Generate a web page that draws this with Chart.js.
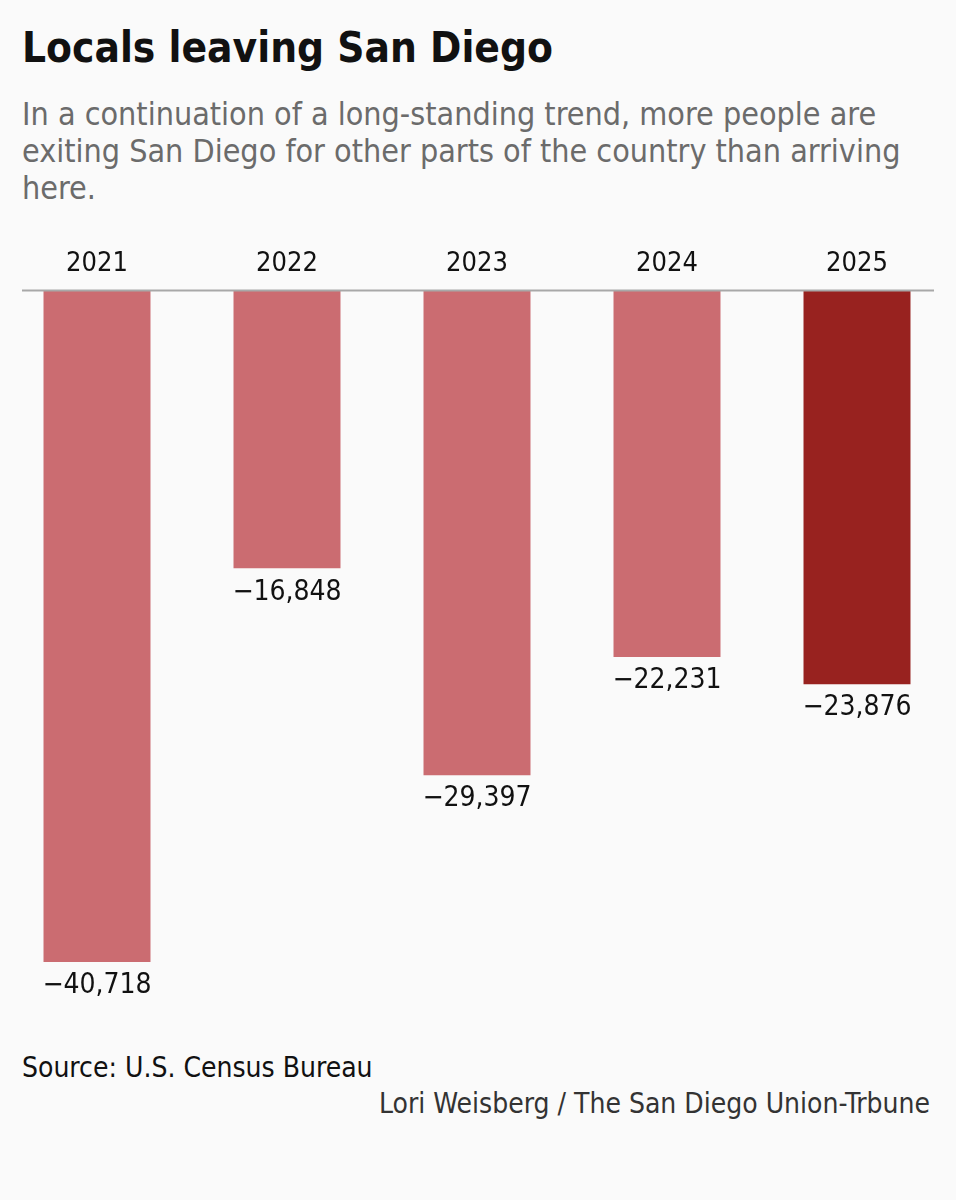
<!DOCTYPE html>
<html>
<head>
<meta charset="utf-8">
<script src="https://cdn.jsdelivr.net/npm/chart.js@4.4.1/dist/chart.umd.min.js"></script>
<style>
  body { margin: 0; background: #fafafa; width: 956px; height: 1200px; position: relative; overflow: hidden;
         font-family: "Liberation Sans Narrow", "DejaVu Sans Condensed", sans-serif; }
  .t { position: absolute; white-space: nowrap; }
  #title { left: 22px; top: 23px; font-size: 42px; font-weight: bold; color: #111; }
  #sub { left: 22px; top: 96px; font-size: 32px; line-height: 37px; color: #6b6b6b; }
  #source { left: 22px; top: 1051px; font-size: 28px; color: #111; }
  #credit { right: 26px; top: 1087px; font-size: 28px; color: #333; }
  #wrap { position: absolute; left: 0; top: 230px; width: 956px; height: 786px; }
</style>
</head>
<body>
<div class="t" id="title">Locals leaving San Diego</div>
<div class="t" id="sub">In a continuation of a long-standing trend, more people are<br>exiting San Diego for other parts of the country than arriving<br>here.</div>
<div id="wrap"><canvas id="chartData"></canvas></div>
<div class="t" id="source">Source: U.S. Census Bureau</div>
<div class="t" id="credit">Lori Weisberg / The San Diego Union-Trbune</div>
<script>
    const years = ["2021", "2022", "2023", "2024", "2025"];
    const netMigration = [-40718, -16848, -29397, -22231, -23876];
    const barColors = ["#cb6c71", "#cb6c71", "#cb6c71", "#cb6c71", "#98221f"];

    const fontFamily = '"Liberation Sans Narrow", "DejaVu Sans Condensed", sans-serif';

    // zero line plus the value under each bar
    const labelsPlugin = {
        id: "labels",
        afterDatasetsDraw(chart) {
            const c = chart.ctx;
            const y0 = chart.scales.y.getPixelForValue(0);
            c.save();
            c.strokeStyle = "#a8a8a8";
            c.lineWidth = 2;
            c.beginPath();
            c.moveTo(22, y0);
            c.lineTo(934, y0);
            c.stroke();

            c.fillStyle = "#111";
            c.font = "28px " + fontFamily;
            c.textAlign = "center";
            c.textBaseline = "middle";
            chart.getDatasetMeta(0).data.forEach((bar, i) => {
                const txt = "\u2212" + Math.abs(netMigration[i]).toLocaleString("en-US");
                c.fillText(txt, bar.x, bar.y + 24);
            });
            c.restore();
        }
    };

    new Chart(document.getElementById("chartData"), {
        type: "bar",
        data: {
            labels: years,
            datasets: [{
                data: netMigration,
                backgroundColor: barColors,
                barPercentage: 0.563,
                categoryPercentage: 1,
            }],
        },
        options: {
            responsive: true,
            maintainAspectRatio: false,
            animation: false,
            layout: { padding: { left: 2, right: 4, top: 8, bottom: 0 } },
            plugins: { legend: { display: false }, tooltip: { enabled: false } },
            scales: {
                x: {
                    position: "top",
                    grid: { display: false, drawTicks: false },
                    border: { display: false },
                    ticks: { color: "#111", font: { size: 27, family: fontFamily }, padding: 10 },
                },
                y: {
                    display: false,
                    min: -44000,
                    max: 0,
                },
            },
        },
        plugins: [labelsPlugin],
    });
</script>
</body>
</html>
